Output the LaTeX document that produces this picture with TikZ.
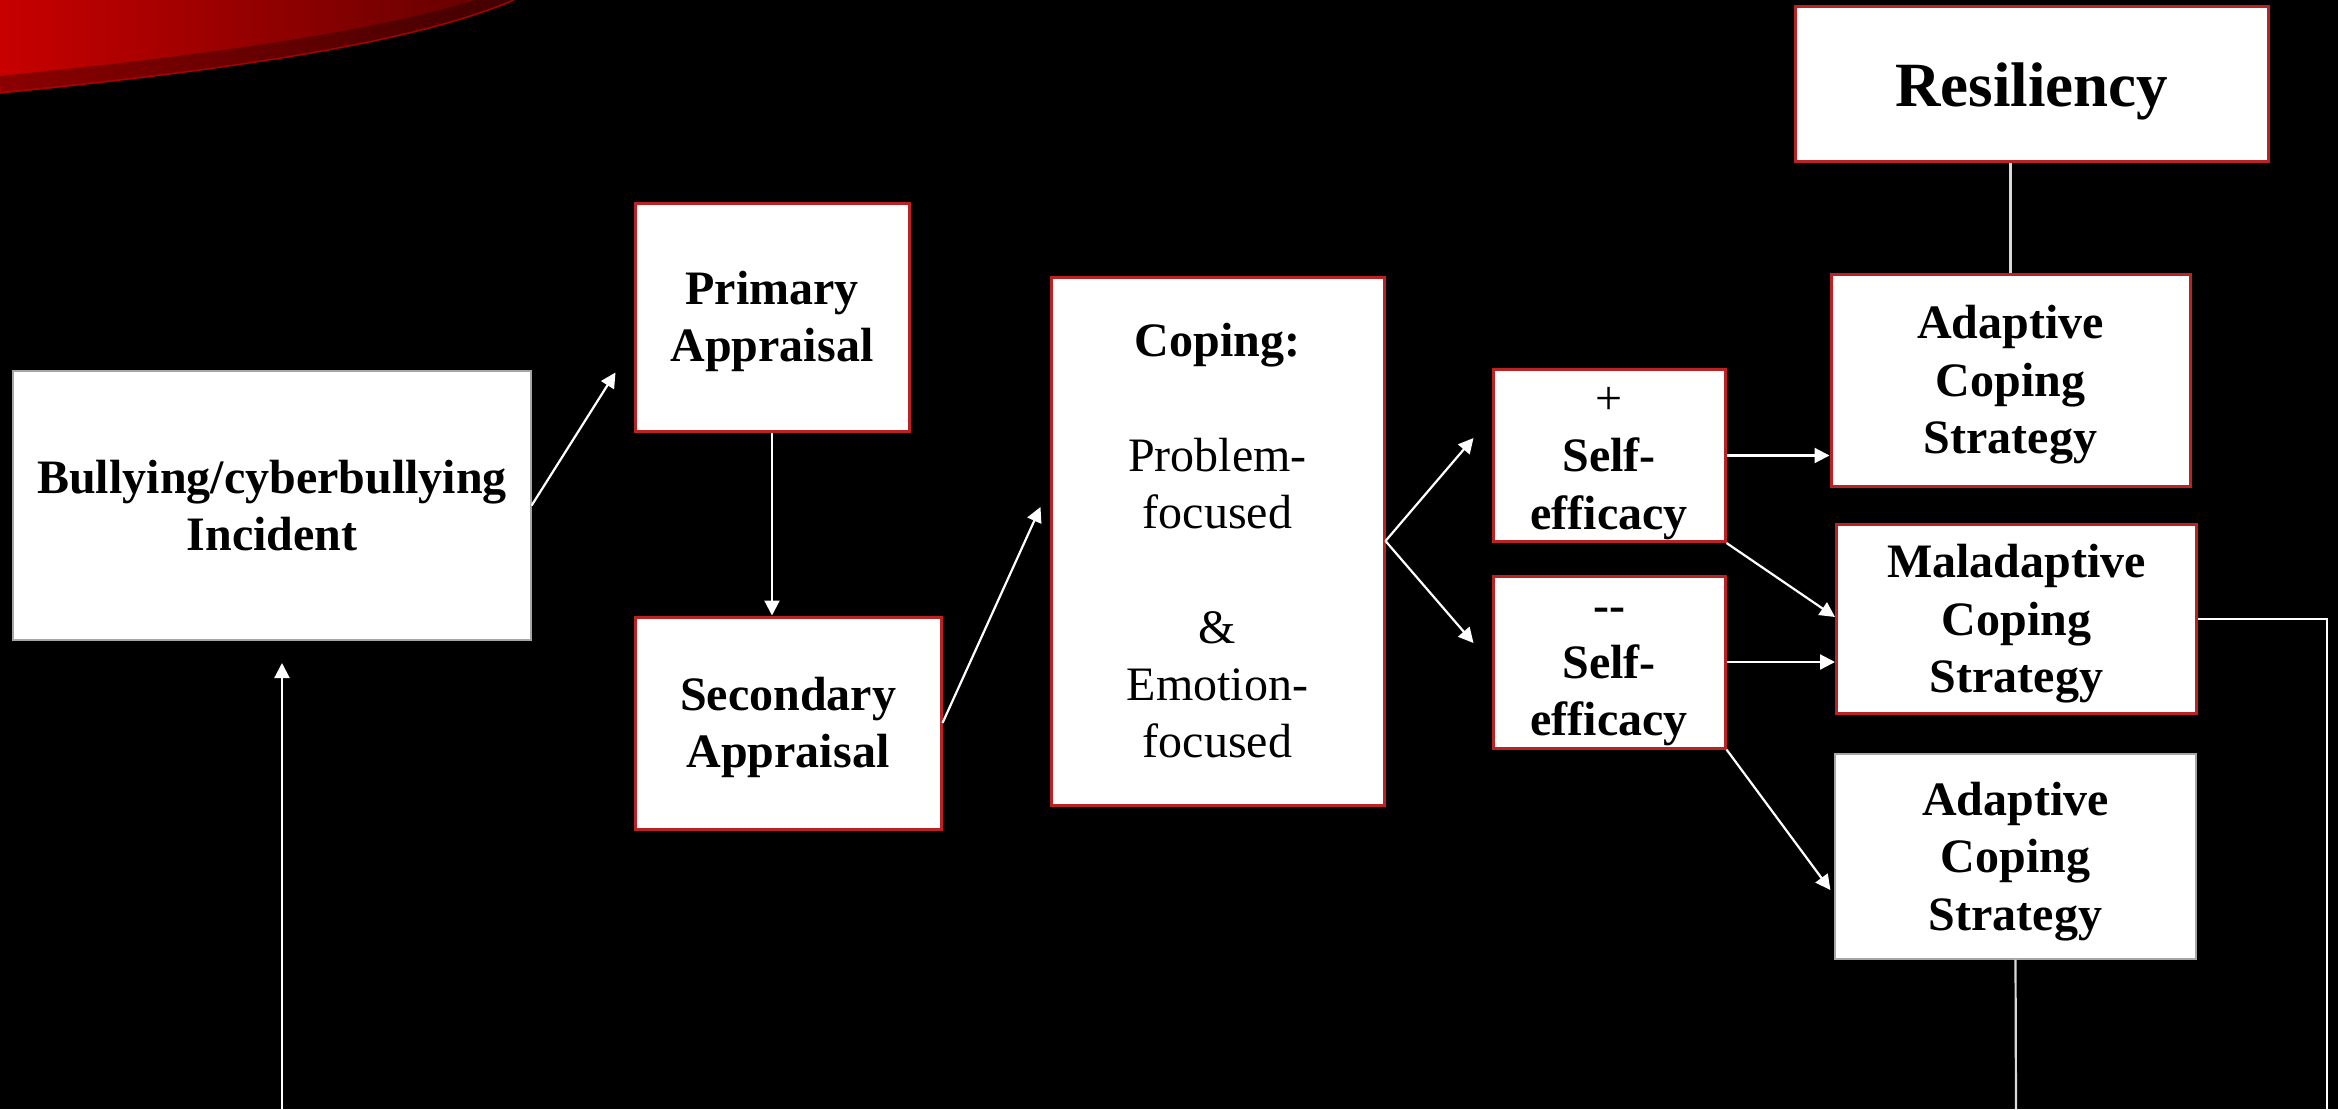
\documentclass[tikz,border=0pt]{standalone}
\usepackage{fontspec}
\setmainfont{Liberation Serif}
\usetikzlibrary{arrows.meta,calc}
\definecolor{boxred}{RGB}{185,35,35}
\definecolor{swred}{RGB}{200,0,0}
\definecolor{swdark}{RGB}{95,0,0}
\newcommand\ftop{\rule{0pt}{43pt}}
\newcommand\fbot{\rule[-10.4pt]{0pt}{10.4pt}}
\begin{document}
\begin{tikzpicture}[x=1pt,y=-1pt,
  redbox/.style={draw=boxred,line width=3pt,fill=white,inner sep=0pt,align=center,
    font=\bfseries\fontsize{48}{57.3}\selectfont},
  greybox/.style={redbox,draw=gray!70,line width=1.2pt},
  conn/.style={draw=white,line width=2.2pt},
  arr/.style={conn,-{Triangle[length=15pt,width=15pt]}}]
\useasboundingbox (0,0) rectangle (2338,1109);
\fill[black] (0,0) rectangle (2338,1109);
% red swoosh
\fill[left color=swred,right color=swdark] (0,0) -- (514,0) .. controls (420,40) and (250,68) .. (0,93) -- cycle;
\begin{scope}
  \clip (0,0) -- (514,0) .. controls (420,40) and (250,68) .. (0,93) -- cycle;
  \draw[line width=16pt,black,opacity=0.3] (524,-9) .. controls (430,31) and (250,59) .. (0,84);
\end{scope}
\draw[line width=1.5pt,color={rgb,255:red,170;green,0;blue,0}] (514,0) .. controls (420,40) and (250,68) .. (0,93);
% nodes
\node[greybox,minimum width=518pt,minimum height=269pt] (bull) at (272,505.5) {\ftop Bullying/cyberbullying\\Incident\fbot};
\node[redbox,minimum width=274pt,minimum height=228pt] (prim) at (772,317) {\ftop Primary\\Appraisal\fbot};
\node[redbox,minimum width=306pt,minimum height=212pt] (sec) at (788,723) {\ftop Secondary\\Appraisal\fbot};
\node[redbox,minimum width=333pt,minimum height=528pt] (cop) at (1217.5,541) {\ftop Coping:\\\mbox{}\\\mdseries Problem-\\\mdseries focused\\\mbox{}\\\mdseries \&\\\mdseries Emotion-\\\mdseries focused\fbot};
\node[redbox,minimum width=232pt,minimum height=172pt] (ps) at (1609,455.5) {\ftop{\mdseries +}\\Self-\\efficacy\fbot};
\node[redbox,minimum width=232pt,minimum height=172pt] (ns) at (1609,662) {\ftop-{}-\\Self-\\efficacy\fbot};
\node[redbox,minimum width=359pt,minimum height=212pt] (adt) at (2010.5,380) {\ftop Adaptive\\Coping\\Strategy\fbot};
\node[redbox,minimum width=360pt,minimum height=189pt] (mal) at (2016.5,619) {\ftop Maladaptive\\Coping\\Strategy\fbot};
\node[greybox,minimum width=361pt,minimum height=205pt] (adb) at (2015.5,856.5) {\ftop Adaptive\\Coping\\Strategy\fbot};
\node[redbox,minimum width=473pt,minimum height=155pt,font=\bfseries\fontsize{63}{70}\selectfont] (res) at (2031.5,83.5) {\rule{0pt}{60pt}Resiliency\rule[-13.6pt]{0pt}{13.6pt}};
% free ends
\coordinate (lbot) at (282,1109);
\coordinate (ltop) at (282,663);
\coordinate (mright) at (2327,1109);
\coordinate (abot) at (2016,1109);
% connectors
\draw[arr] (bull.east) -- ($(prim.south west)+(-18,-60)$);
\draw[arr] (prim.south) -- (prim.south |- sec.north);
\draw[arr] (sec.east) -- ($(cop.west)+(-9,-34)$);
\draw[arr] (cop.east) -- ($(ps.west)+(-18,-17.5)$);
\draw[arr] (cop.east) -- ($(ns.west)+(-18,-19)$);
\draw[arr] (ps.east) -- (ps.east -| adt.west);
\draw[arr] (ps.south east) -- ($(mal.west)+(0,-2)$);
\draw[arr] (ns.east) -- (ns.east -| mal.west);
\draw[arr] (ns.south east) -- ($(adb.west)+(-4,33.5)$);
\draw[arr] (lbot) -- (ltop);
\draw[conn,draw=white!85!black] (adt.north) -- (adt.north |- res.south);
\draw[conn] (mal.east) -| (mright);
\draw[conn,draw=white!85!black] (adb.south) -- (abot);
\end{tikzpicture}
\end{document}
